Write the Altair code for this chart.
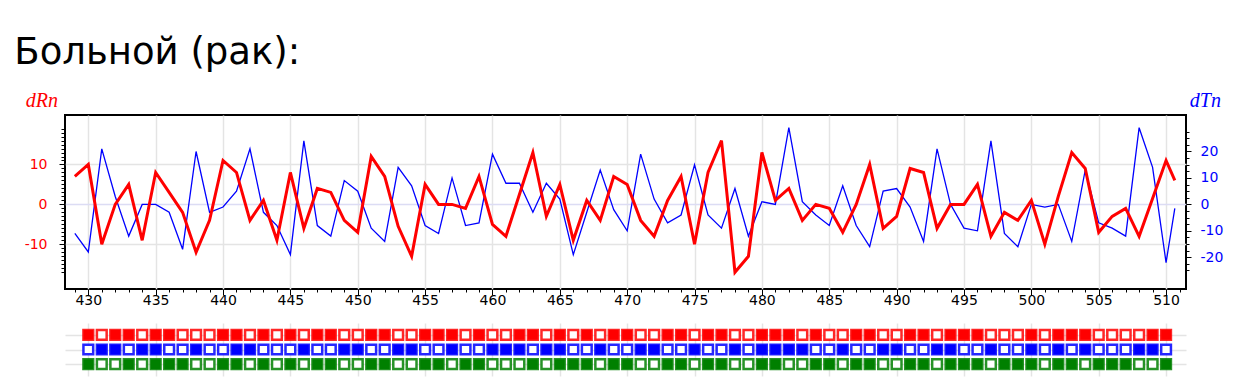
import altair as alt
import pandas as pd

# ---- data ----
n_idx = list(range(429, 511)) + [510.65]
dRn = [7, 10, -10, 0, 5, -9, 8, 3, -2, -12,
       -4, 11, 8, -4, 1, -9, 8, -6, 4, 3,
       -4, -7, 12, 7, -5.5, -13, 5, 0, 0, -1,
       7, -5, -8, 2.5, 13, -3, 5, -9, 1, -4,
       7, 5, -4, -8, 1, 7, -10, 8, 16, -17,
       -13, 13, 1, 4, -4, 0, -1, -7, 0, 10,
       -6, -3, 9, 8, -6, 0, 0, 5, -8, -2,
       -4, 1, -10, 2, 13, 9, -7, -3, -1, -8,
       1.5, 11, 6]
dTn = [-11, -18, 21, 3, -12, 0, 0, -3, -17, 20,
       -3, -1, 5, 21, -3, -8, -19, 24, -8, -12,
       9, 5, -9, -14, 14, 7, -8, -11, 10, -8,
       -7, 19, 8, 8, -3, 8, 2, -19, -3, 13,
       -2, -10, 19, 2, -7, -4, 15, -4, -9, 6,
       -12, 1, 0, 29, 1, -4, -8, 7, -8, -16,
       5, 6, -1, -14, 21, 0, -9, -10, 24, -11,
       -16, 0, -1, 0, -14, 13, -7, -9, -12, 29,
       14, -22, -1.5]

sq_n = list(range(430, 511))
red_row = [1, 0, 1, 1, 0, 1, 1, 0, 0, 0,
           1, 1, 0, 1, 0, 1, 0, 1, 1, 0,
           0, 1, 1, 0, 0, 1, 1, 1, 0, 1,
           0, 0, 1, 1, 0, 1, 0, 1, 0, 1,
           1, 0, 0, 1, 1, 0, 1, 1, 0, 0,
           1, 1, 1, 0, 1, 0, 0, 1, 1, 0,
           0, 1, 1, 0, 1, 1, 1, 0, 0, 0,
           1, 0, 1, 1, 1, 0, 0, 0, 0, 1,
           1]
blue_row = [0, 1, 1, 0, 1, 1, 0, 0, 1, 0,
            0, 1, 1, 0, 0, 0, 1, 0, 0, 1,
            1, 0, 0, 1, 1, 0, 0, 1, 0, 0,
            1, 1, 1, 0, 1, 1, 0, 0, 1, 0,
            0, 1, 1, 0, 0, 1, 0, 0, 1, 0,
            1, 1, 1, 1, 0, 0, 1, 0, 0, 1,
            1, 0, 0, 1, 1, 0, 0, 1, 0, 0,
            1, 0, 1, 0, 1, 0, 0, 0, 1, 1,
            0]
green_row = [1, 0, 0, 1, 0, 1, 1, 1, 0, 0,
             1, 1, 0, 1, 0, 1, 0, 1, 1, 0,
             0, 1, 1, 0, 0, 1, 1, 0, 1, 1,
             0, 0, 0, 1, 0, 1, 1, 1, 0, 1,
             1, 0, 0, 1, 1, 0, 1, 1, 0, 0,
             1, 1, 0, 0, 1, 1, 0, 1, 1, 0,
             0, 1, 1, 0, 1, 1, 1, 0, 1, 1,
             1, 0, 1, 1, 0, 1, 1, 1, 0, 0,
             1]

RED, BLUE, GREEN = "#ff0000", "#0000ff", "#008000"
GRID = "#e4e4e4"
W, H = 1121, 174
XDOM = [428.27, 511.48]

lines = pd.DataFrame({"n": n_idx, "dRn": dRn, "dTn": dTn})

rows = []
for name, color, vals in [("R", RED, red_row), ("T", BLUE, blue_row), ("G", GREEN, green_row)]:
    for xv, f in zip(sq_n, vals):
        rows.append({"n": xv, "row": name, "fillc": color if f else "white", "strokec": color})
sq = pd.DataFrame(rows)

xscale = alt.Scale(domain=XDOM, nice=False, zero=False)

x_axis = alt.Axis(
    orient="bottom",
    values=list(range(429, 512)),
    tickSize=alt.condition("datum.value % 5 === 0", alt.value(6), alt.value(3)),
    tickColor="black",
    labelExpr="datum.value % 5 === 0 ? '' + datum.value : ''",
    labelFont="DejaVu Sans", labelFontSize=14, labelColor="black",
    labelPadding=-2, labelOverlap=False,
    domain=False,
    grid=True, gridColor=GRID, gridWidth=1.5,
    gridOpacity=alt.condition("datum.value % 5 === 0", alt.value(1), alt.value(0)),
    title=None,
)

y_left = alt.Axis(
    orient="left",
    values=list(range(-17, 20)),
    tickSize=alt.condition("datum.value % 10 === 0", alt.value(6), alt.value(4)),
    tickColor="black",
    labelExpr="datum.value % 10 === 0 ? '' + datum.value : ''",
    labelFont="DejaVu Sans", labelFontSize=14, labelColor=RED,
    labelPadding=12, labelOverlap=False,
    domain=False,
    grid=True, gridWidth=1.5,
    gridColor=alt.condition("datum.value === 0", alt.value("#dcdcf4"), alt.value(GRID)),
    gridOpacity=alt.condition("datum.value % 10 === 0", alt.value(1), alt.value(0)),
    title="dRn", titleAngle=0, titleAlign="left", titleBaseline="alphabetic",
    titleX=-39.7, titleY=-8.7, titleColor=RED, titleFont="Liberation Serif",
    titleFontStyle="italic", titleFontWeight="normal", titleFontSize=20,
)

y_right = alt.Axis(
    orient="right",
    values=[-25 + 2.5 * k for k in range(22)],
    tickSize=alt.condition("datum.value % 10 === 0", alt.value(5), alt.value(3)),
    tickColor="black",
    labelExpr="datum.value % 10 === 0 ? '' + datum.value : ''",
    labelFont="DejaVu Sans", labelFontSize=14, labelColor=BLUE,
    labelPadding=9, labelOverlap=False,
    domain=False, grid=False,
    title="dTn", titleAngle=0, titleAlign="left", titleBaseline="alphabetic",
    titleX=3.3, titleY=-8.7, titleColor=BLUE, titleFont="Liberation Serif",
    titleFontStyle="italic", titleFontWeight="normal", titleFontSize=20,
)

base = alt.Chart(lines).encode(x=alt.X("n:Q", scale=xscale, axis=x_axis))

blue_line = base.mark_line(color=BLUE, strokeWidth=1.3).encode(
    y=alt.Y("dTn:Q", scale=alt.Scale(domain=[-32, 33.8], nice=False, zero=False), axis=y_right)
)
red_line = base.mark_line(color=RED, strokeWidth=3).encode(
    y=alt.Y("dRn:Q", scale=alt.Scale(domain=[-21.2, 22.4], nice=False, zero=False), axis=y_left)
)

main = alt.layer(blue_line, red_line).resolve_scale(y="independent").properties(
    width=W, height=H,
    view=alt.ViewBackground(stroke="black", strokeWidth=2),
    title=alt.TitleParams(
        "Больной (рак):", anchor="start", frame="group", dx=-50.7,
        font="DejaVu Sans", fontSize=37, fontWeight="normal", color="black", offset=18.7,
    ),
)

squares = alt.Chart(sq).mark_square(size=95, strokeWidth=2.5, strokeOpacity=0.85, opacity=1).encode(
    x=alt.X("n:Q", scale=xscale, axis=alt.Axis(
        values=list(range(430, 511, 5)), labels=False, ticks=False, domain=False, title=None,
        grid=True, gridColor=GRID, gridWidth=1.5)),
    y=alt.Y("row:N", sort=["R", "T", "G"], scale=alt.Scale(type="point", padding=0.8),
            axis=alt.Axis(labels=False, ticks=False, domain=False, title=None,
                          grid=True, gridColor=GRID, gridWidth=1.5)),
    fill=alt.Fill("fillc:N", scale=None),
    stroke=alt.Stroke("strokec:N", scale=None),
).properties(width=W, height=53, view=alt.ViewBackground(stroke="transparent"))

chart = alt.vconcat(main, squares, spacing=14).properties(
    padding={"left": 5, "top": 24, "right": 5, "bottom": 5},
    background="white",
)

chart.save("out.html", embed_options={"renderer": "svg", "actions": False})
